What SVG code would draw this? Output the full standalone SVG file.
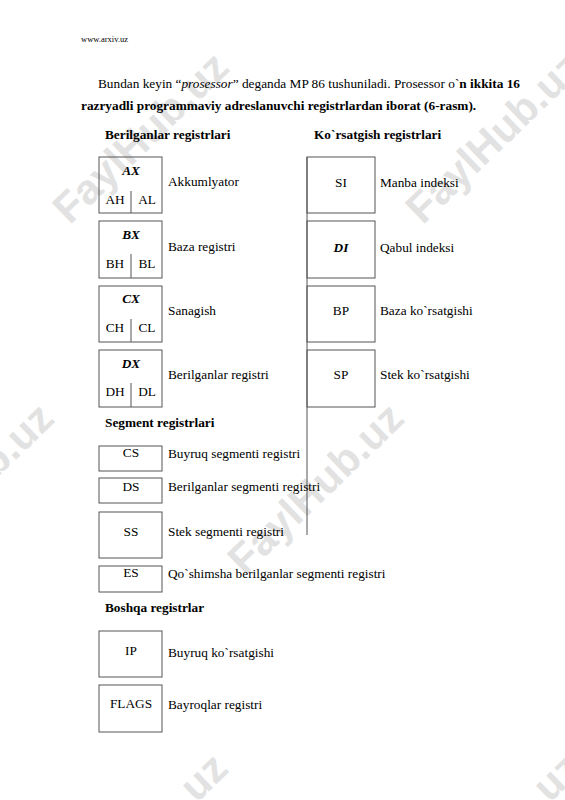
<svg xmlns="http://www.w3.org/2000/svg" width="565" height="800" viewBox="0 0 565 800">
<style>
.t{font-family:"Liberation Serif","Times New Roman",serif;font-size:13.3px;fill:#000}
.b{font-weight:bold}
.i{font-style:italic}
.m{text-anchor:middle}
.box{fill:none;stroke:#555;stroke-width:1}
.wm{font-family:"Liberation Sans",Arial,sans-serif;font-weight:bold;font-size:42px;fill:#e2e2e2;text-anchor:middle}
</style>
<rect width="565" height="800" fill="#fff"/>
<g id="watermarks">
<text class="wm" transform="translate(140,137) rotate(-44)" x="0" y="15">FaylHub.uz</text>
<text class="wm" transform="translate(493,137) rotate(-44)" x="0" y="15">FaylHub.uz</text>
<text class="wm" transform="translate(315,488) rotate(-44)" x="0" y="15">FaylHub.uz</text>
<text class="wm" transform="translate(-35,488) rotate(-44)" x="0" y="15">FaylHub.uz</text>
<text class="wm" transform="translate(139,838) rotate(-44)" x="0" y="15">FaylHub.uz</text>
<text class="wm" transform="translate(492,838) rotate(-44)" x="0" y="15">FaylHub.uz</text>
</g>
<g id="header">
<text class="t" x="81" y="42" style="font-size:8.5px">www.arxiv.uz</text>
<text class="t" x="98" y="88">Bundan keyin “<tspan class="i">prosessor</tspan>” deganda MP 86 tushuniladi. Prosessor o`<tspan class="b">n ikkita 16</tspan></text>
<text class="t b" x="81" y="110">razryadli programmaviy adreslanuvchi registrlardan iborat (6-rasm).</text>
<text class="t b" x="105" y="139">Berilganlar registrlari</text>
<text class="t b" x="314" y="139">Ko`rsatgish registrlari</text>
</g>
<g id="connectors">
<line class="box" x1="307" y1="157" x2="307" y2="535"/>
</g>
<g id="AX">
<rect class="box" x="99" y="157" width="63" height="56"/>
<line class="box" x1="131" y1="191" x2="131" y2="213"/>
<text class="t b i m" x="131" y="175">AX</text>
<text class="t m" x="115" y="204">AH</text>
<text class="t m" x="147" y="204">AL</text>
<text class="t" x="168" y="186">Akkumlyator</text>
</g>
<g id="BX">
<rect class="box" x="99" y="221" width="63" height="57"/>
<line class="box" x1="131" y1="254" x2="131" y2="278"/>
<text class="t b i m" x="131" y="239">BX</text>
<text class="t m" x="115" y="268">BH</text>
<text class="t m" x="147" y="268">BL</text>
<text class="t" x="168" y="251">Baza registri</text>
</g>
<g id="CX">
<rect class="box" x="99" y="286" width="63" height="56"/>
<line class="box" x1="131" y1="319" x2="131" y2="342"/>
<text class="t b i m" x="131" y="303">CX</text>
<text class="t m" x="115" y="332">CH</text>
<text class="t m" x="147" y="332">CL</text>
<text class="t" x="168" y="315">Sanagish</text>
</g>
<g id="DX">
<rect class="box" x="99" y="350" width="63" height="57"/>
<line class="box" x1="131" y1="383" x2="131" y2="407"/>
<text class="t b i m" x="131" y="368">DX</text>
<text class="t m" x="115" y="396">DH</text>
<text class="t m" x="147" y="396">DL</text>
<text class="t" x="168" y="379">Berilganlar registri</text>
</g>
<g id="SI">
<rect class="box" x="307" y="157" width="68" height="56"/>
<text class="t m" x="341" y="187">SI</text>
<text class="t" x="380" y="187">Manba indeksi</text>
</g>
<g id="DI">
<rect class="box" x="307" y="221" width="68" height="57"/>
<text class="t b i m" x="341" y="252">DI</text>
<text class="t" x="380" y="252">Qabul indeksi</text>
</g>
<g id="BP">
<rect class="box" x="307" y="286" width="68" height="56"/>
<text class="t m" x="341" y="315">BP</text>
<text class="t" x="380" y="315">Baza ko`rsatgishi</text>
</g>
<g id="SP">
<rect class="box" x="307" y="350" width="68" height="57"/>
<text class="t m" x="341" y="379">SP</text>
<text class="t" x="380" y="379">Stek ko`rsatgishi</text>
</g>
<text class="t b" x="105" y="427">Segment registrlari</text>
<g id="CS">
<rect class="box" x="99" y="446" width="63" height="25"/>
<text class="t m" x="131" y="457">CS</text>
<text class="t" x="168" y="458">Buyruq segmenti registri</text>
</g>
<g id="DS">
<rect class="box" x="99" y="478" width="63" height="25"/>
<text class="t m" x="131" y="491">DS</text>
<text class="t" x="168" y="491">Berilganlar segmenti registri</text>
</g>
<g id="SS">
<rect class="box" x="99" y="512" width="63" height="46"/>
<text class="t m" x="131" y="536">SS</text>
<text class="t" x="168" y="536">Stek segmenti registri</text>
</g>
<g id="ES">
<rect class="box" x="99" y="566" width="63" height="26"/>
<text class="t m" x="131" y="577">ES</text>
<text class="t" x="168" y="578">Qo`shimsha berilganlar segmenti registri</text>
</g>
<text class="t b" x="105" y="612">Boshqa registrlar</text>
<g id="IP">
<rect class="box" x="99" y="631" width="63" height="46"/>
<text class="t m" x="131" y="655">IP</text>
<text class="t" x="168" y="657">Buyruq ko`rsatgishi</text>
</g>
<g id="FLAGS">
<rect class="box" x="99" y="685" width="63" height="47"/>
<text class="t m" x="131" y="708">FLAGS</text>
<text class="t" x="168" y="709">Bayroqlar registri</text>
</g>
</svg>
